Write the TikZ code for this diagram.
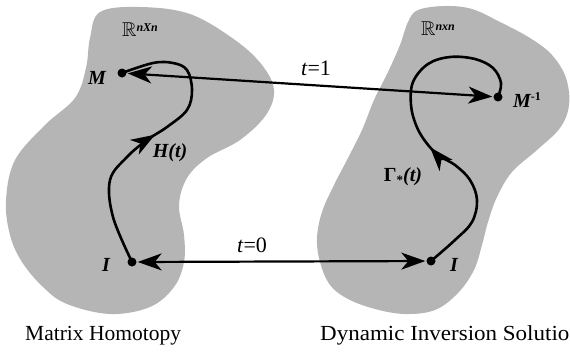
\documentclass[tikz,border=0pt]{standalone}
\usepackage{fontspec}
\usepackage{amssymb}
\setmainfont{Liberation Serif}
\usetikzlibrary{arrows.meta,decorations.markings}
\begin{document}
\begin{tikzpicture}[x=1pt,y=-1pt,
  blob/.style={fill=black!29, draw=none},
  dot/.style={circle, fill=black, inner sep=0pt, minimum size=9pt},
  link/.style={line width=2.2pt, {Stealth[length=24pt,width=17pt,inset=7pt]}-{Stealth[length=24pt,width=17pt,inset=7pt]}, shorten <=1pt, shorten >=1pt},
  traj/.style={line width=2.6pt, postaction={decorate},
    decoration={markings, mark=at position #1 with {\arrow{Stealth[length=24pt,width=17pt,inset=7pt]}}}},
  lab/.style={font=\fontsize{20}{22}\selectfont\bfseries\itshape, inner sep=0pt},
  tlab/.style={font=\fontsize{22}{24}\selectfont, inner sep=0pt},
  captext/.style={font=\fontsize{21.5}{24}\selectfont, inner sep=0pt},
  sp/.style={font=\fontsize{20}{22}\selectfont, inner sep=0pt}]
\useasboundingbox (0,0) rectangle (570,360);
% regions
\fill[blob] plot[smooth cycle, tension=0.6] coordinates {(100,12) (140,7) (190,14) (235,40) (262,65) (274,90) (266,115) (240,140) (207,158) (187,178) (179,205) (184,235) (184,262) (174,287) (150,307) (110,314) (67,304) (43,287) (22,262) (10,235) (6,200) (15,160) (45,125) (75,98) (86,68) (90,38)};
\fill[blob] plot[smooth cycle, tension=0.6] coordinates {(418,10) (445,6) (472,9) (500,22) (530,38) (552,55) (566,78) (569,105) (560,128) (537,150) (512,172) (497,197) (488,222) (482,245) (474,270) (458,293) (435,310) (405,314) (375,309) (348,299) (330,285) (320,262) (317,238) (322,212) (334,185) (348,158) (362,130) (374,100) (388,72) (400,45) (408,22)};
% points
\node[dot] (M) at (122,73) {};
\node[dot] (IL) at (132,262) {};
\node[dot] (Minv) at (498,97) {};
\node[dot] (IR) at (431,261) {};
% trajectories
\draw[traj=0.5] plot[smooth, tension=0.6] coordinates {(IL.center) (113,217) (110,180) (127,157) (147,140) (167,127) (187,110) (192,90) (187,70) (173,63) (153,63) (M.center)};
\draw[traj=0.44] plot[smooth, tension=0.6] coordinates {(IR.center) (455,240) (472,222) (477,200) (470,180) (455,165) (438,155) (425,141) (416,125) (411,105) (413,82) (428,64) (450,57) (475,59) (493,68) (501,83) (Minv.center)};
% links
\draw[link] (M) -- (Minv);
\draw[link] (IL) -- (IR);
% labels
\node[sp] (RL) at (140,30) {$\mathbb{R}$\raisebox{5pt}{\fontsize{12}{12}\selectfont\bfseries\itshape nXn}};
\node[sp] (RR) at (438,29) {$\mathbb{R}$\raisebox{5pt}{\fontsize{12}{12}\selectfont\bfseries\itshape nxn}};
\node[lab] (Ml) at (97,78) {M};
\node[lab] (Hl) at (170,153) {H(t)};
\node[lab] (ILl) at (106,265) {I};
\node[lab] (IRl) at (454,265) {I};
\node[lab] (Minvl) at (527,100) {M\raisebox{7pt}{\fontsize{12}{12}\selectfont\upshape -1}};
\node[lab] (Gl) at (403,177) {{\upshape Γ}\raisebox{-3pt}{\fontsize{13}{13}\selectfont\upshape *}(t)};
\node[tlab] (t1) at (316,68) {\textit{t}=1};
\node[tlab] (t0) at (252,245) {\textit{t}=0};
% captions
\node[captext, anchor=base west] (c1) at (25,340) {Matrix Homotopy};
\node[captext, anchor=base west] (c2) at (320,340) {\scalebox{1.07}[1]{Dynamic Inversion Solutio}};
\end{tikzpicture}
\end{document}
